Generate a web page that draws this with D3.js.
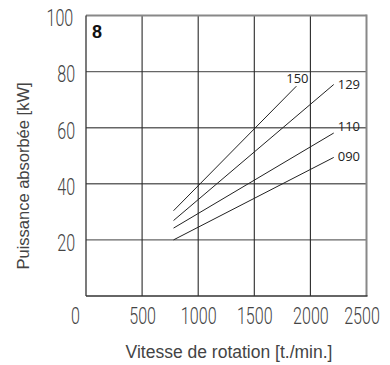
<!DOCTYPE html>
<html><head><meta charset="utf-8">
<script src="https://cdn.jsdelivr.net/npm/d3@7"></script>
<style>
body{margin:0;background:#fff;}
svg{display:block;}
.tickx text,.ticky text{transform-box:fill-box;transform-origin:center;transform:scaleX(0.7);}
</style></head>
<body>
<svg id="c" width="390" height="365"></svg>
<script>
// data
const seriesNames = ["150", "129", "110", "090"];
const rpmStart = [780, 780, 780, 780];
const rpmEnd = [1875, 2208, 2208, 2208];
const kwStart = [30.4, 26.9, 24.2, 20.0];
const kwEnd = [74.8, 75.4, 58.1, 49.4];
const xTicks = [0, 500, 1000, 1500, 2000, 2500];
const yTicks = [20, 40, 60, 80, 100];
const panelLabel = "8";
const xTitle = "Vitesse de rotation [t./min.]";
const yTitle = "Puissance absorbée [kW]";
// label offsets (style)
const labelDx = [1, 4, 4, 4];
const labelDy = [-3, 4, -2.5, 4];
const labelAnchor = ["middle", "start", "start", "start"];

const svg = d3.select("#c");
const L = 86, R = 366.5, T = 15.5, B = 296;
const x = d3.scaleLinear().domain([0, 2500]).range([L, R]);
const y = d3.scaleLinear().domain([0, 100]).range([B, T]);

// horizontal gridlines
svg.append("g").selectAll("line").data(yTicks.filter(d => d < 100)).join("line")
  .attr("x1", L).attr("x2", R).attr("y1", d => y(d)).attr("y2", d => y(d))
  .attr("stroke", "#666").attr("stroke-width", 1.4);
// vertical gridlines
svg.append("g").selectAll("line").data(xTicks.filter(d => d > 0 && d < 2500)).join("line")
  .attr("y1", T).attr("y2", B).attr("x1", d => x(d)).attr("x2", d => x(d))
  .attr("stroke", "#2a2a2a").attr("stroke-width", 1.1);
// border
svg.append("line").attr("x1", L).attr("x2", R).attr("y1", T).attr("y2", T).attr("stroke", "#888").attr("stroke-width", 2);
svg.append("line").attr("x1", R).attr("x2", R).attr("y1", T - 1).attr("y2", B).attr("stroke", "#888").attr("stroke-width", 2);
svg.append("line").attr("x1", L).attr("x2", L).attr("y1", T).attr("y2", B).attr("stroke", "#333").attr("stroke-width", 1.3);
svg.append("line").attr("x1", L).attr("x2", R + 1).attr("y1", B).attr("y2", B).attr("stroke", "#333").attr("stroke-width", 1.3);

// axes (labels only)
const xa = svg.append("g").attr("class", "tickx").attr("transform", `translate(0,${B})`)
  .call(d3.axisBottom(x).tickValues(xTicks).tickSize(0).tickPadding(12).tickFormat(d3.format("d")));
const ya = svg.append("g").attr("class", "ticky").attr("transform", `translate(${L},0)`)
  .call(d3.axisLeft(y).tickValues(yTicks).tickSize(0).tickPadding(7).tickFormat(d3.format("d")));
[xa, ya].forEach(g => {
  g.select(".domain").remove();
  g.selectAll("text").attr("font-family", "Roboto, 'Liberation Sans', sans-serif")
    .attr("font-weight", 300).attr("font-size", 23).attr("fill", "#444");
});
xa.selectAll(".tick text").attr("dy", "0.71em").attr("dx", d => d === 0 ? -11 : (d === 2500 ? -5 : 0));
ya.selectAll(".tick text").attr("dy", "0.45em");

// series lines
const idx = d3.range(seriesNames.length);
svg.append("g").selectAll("line").data(idx).join("line")
  .attr("x1", i => x(rpmStart[i])).attr("y1", i => y(kwStart[i]))
  .attr("x2", i => x(rpmEnd[i])).attr("y2", i => y(kwEnd[i]))
  .attr("stroke", "#222").attr("stroke-width", 1);
svg.append("g").selectAll("text").data(idx).join("text")
  .attr("x", i => x(rpmEnd[i]) + labelDx[i]).attr("y", i => y(kwEnd[i]) + labelDy[i])
  .attr("text-anchor", i => labelAnchor[i])
  .attr("font-family", "'Open Sans', sans-serif").attr("font-size", 13).attr("fill", "#222")
  .text(i => seriesNames[i]);

// panel label
svg.append("text").attr("x", 92).attr("y", 38).attr("font-family", "'Liberation Sans', Arial, sans-serif")
  .attr("font-weight", "bold").attr("font-size", 18).attr("fill", "#111").text(panelLabel);

// titles
svg.append("text").attr("x", 229).attr("y", 357.5).attr("text-anchor", "middle")
  .attr("font-family", "'Liberation Sans', Arial, sans-serif").attr("font-size", 17.5).attr("fill", "#444").text(xTitle);
svg.append("text").attr("transform", "translate(29,176) rotate(-90)").attr("text-anchor", "middle")
  .attr("font-family", "'Liberation Sans', Arial, sans-serif").attr("font-size", 16.5).attr("fill", "#444").text(yTitle);
</script>
</body></html>
